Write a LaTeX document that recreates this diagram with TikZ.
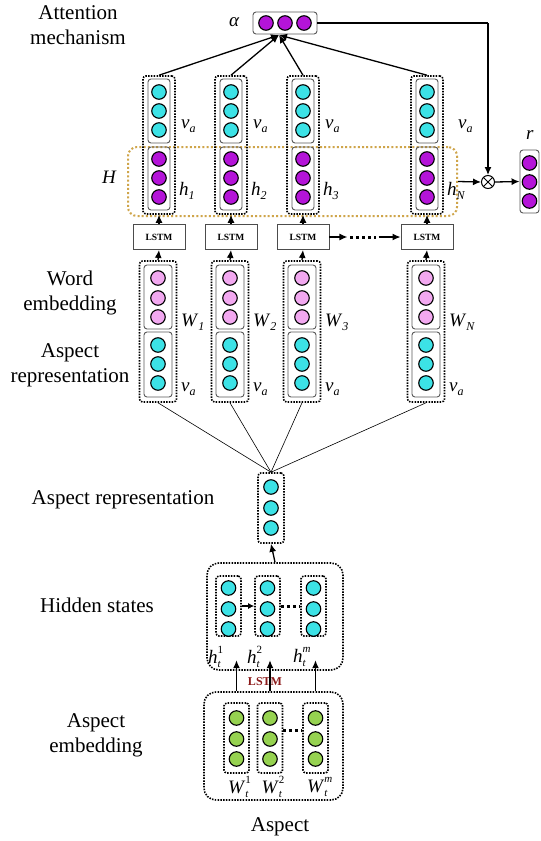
\documentclass[tikz,border=0pt]{standalone}
\usepackage{fontspec}
\setmainfont{Liberation Serif}
\usetikzlibrary{arrows.meta,calc}

\definecolor{cian}{HTML}{3CE2E6}
\definecolor{morado}{HTML}{B414D8}
\definecolor{rosa}{HTML}{F2A8F0}
\definecolor{verde}{HTML}{96D250}
\definecolor{dorado}{HTML}{CFA54A}
\definecolor{rojo}{HTML}{8B1A1A}

\newcommand{\etiq}[2]{\textit{#1}\raisebox{-0.45ex}{\fontsize{12}{12}\selectfont\textit{#2}}}
\newcommand{\etiqd}[3]{\textit{#1}\makebox[0pt][l]{\raisebox{1.1ex}{\fontsize{11}{11}\selectfont #3}}\raisebox{-0.5ex}{\fontsize{11}{11}\selectfont\textit{#2}}}

\begin{document}
\begin{tikzpicture}[x=1pt, y=-1pt,
  neurona/.style={circle, draw, line width=1.1pt, minimum size=14.5pt, inner sep=0pt},
  caja/.style={draw=black!65, line width=0.9pt, rounded corners=3pt, inner sep=0pt},
  punteado/.style={draw, line width=1.6pt, dash pattern=on 1.5pt off 1.3pt, rounded corners=3pt, inner sep=0pt},
  grupo/.style={punteado, rounded corners=12pt},
  lstmbox/.style={draw=black!70, line width=0.9pt, minimum width=52pt, minimum height=25pt, inner sep=0pt, font=\fontsize{9.5}{10}\selectfont\bfseries},
  texto/.style={align=center, font=\fontsize{21}{25}\selectfont},
  mat/.style={anchor=west, inner sep=0pt, font=\fontsize{19}{19}\selectfont},
  flecha/.style={line width=1.3pt, -{Latex[length=8pt,width=7pt]}},
  fina/.style={line width=0.6pt},
  puntos/.style={line width=3pt, dash pattern=on 3pt off 3pt}]

  \path[fill=white] (0,0) rectangle (541,841);
  \useasboundingbox (0,0) rectangle (541,841);

  % Textos
  \node[texto] (tatt) at (78,25) {Attention\\mechanism};
  \node[texto] (tword) at (70,292.5) {Word\\embedding};
  \node[texto] (trep) at (70,365.5) {Aspect\\representation};
  \node[texto] (trep2) at (123,500) {Aspect representation};
  \node[texto] (thid) at (97,605) {Hidden states};
  \node[texto] (temb) at (96,735.5) {Aspect\\embedding};
  \node[texto] (tasp) at (280,827) {Aspect};

  % Atencion
  \node[caja, minimum width=64pt, minimum height=22pt] (alfa) at (285,23) {};
  \foreach \x [count=\k] in {266,285,304}
    \node[neurona, fill=morado] (al\k) at (\x,23) {};
  \node[mat] (lalfa) at (229,22) {\textit{α}};
  \coordinate (punta) at (279,35);

  \node[draw=dorado, line width=2pt, dash pattern=on 2pt off 2.2pt, rounded corners=9pt,
        minimum width=329pt, minimum height=69pt] (H) at (292.5,181.5) {};
  \node[mat] (lH) at (102,177) {\textit{H}};

  % Columnas
  \foreach \i/\x/\s/\d in {1/159/1/22, 2/231/2/22, 3/303/3/22, 4/427/N/31} {
    \node[punteado, minimum width=32pt, minimum height=138pt] (col\i) at (\x,145) {};
    \node[caja, minimum width=22pt, minimum height=64pt] (va\i) at (\x,111) {};
    \node[caja, minimum width=22pt, minimum height=63pt] (h\i) at (\x,178.5) {};
    \foreach \y [count=\k] in {92,111,130}
      \node[neurona, fill=cian] (a\i\k) at (\x,\y) {};
    \foreach \y [count=\k] in {159,178,197}
      \node[neurona, fill=morado] (p\i\k) at (\x,\y) {};
    \node[mat] (lva\i) at (\x+\d,126) {\etiq{v}{a}};
    \node[mat] (lh\i) at (\x+20,191) {\etiq{h}{\s}};

    \node[lstmbox] (l\i) at (\x,237) {LSTM};

    \node[punteado, minimum width=37pt, minimum height=141pt] (pal\i) at (\x-1,331.5) {};
    \node[caja, minimum width=28pt, minimum height=64pt] (w\i) at (\x-1,297) {};
    \node[caja, minimum width=28pt, minimum height=65pt] (vb\i) at (\x-1,364.5) {};
    \foreach \y [count=\k] in {278,298,317}
      \node[neurona, fill=rosa] (r\i\k) at (\x-1,\y) {};
    \foreach \y [count=\k] in {345,364,383}
      \node[neurona, fill=cian] (b\i\k) at (\x-1,\y) {};
    \node[mat] (lw\i) at (\x+22,322) {\etiq{W}{\s}};
    \node[mat] (lvb\i) at (\x+22,389) {\etiq{v}{a}};

    \draw[flecha] (col\i.north) -- (punta);
    \draw[flecha] (l\i.north) -- (col\i.south);
    \draw[flecha] (pal\i.north) -- (l\i.south);
  }

  % LSTM siguientes
  \coordinate (s1) at ($(l3.east)+(18,0)$);
  \coordinate (s2) at ($(l3.east)+(21,0)$);
  \coordinate (s3) at ($(l4.west)+(-25,0)$);
  \coordinate (s4) at ($(l4.west)+(-22,0)$);
  \draw[flecha] (l3.east) -- (s1);
  \draw[puntos] (s2) -- (s3);
  \draw[flecha] (s4) -- (l4.west);

  % Salida
  \node[circle, draw, line width=1pt, minimum size=13pt, inner sep=0pt,
        path picture={\draw[line width=0.8pt] (path picture bounding box.north west) -- (path picture bounding box.south east)
                      (path picture bounding box.north east) -- (path picture bounding box.south west);}] (prod) at (488,182) {};
  \node[caja, minimum width=19pt, minimum height=63pt] (rbox) at (529.5,181.5) {};
  \foreach \y [count=\k] in {163,182,201}
    \node[neurona, fill=morado] (o\k) at (529.5,\y) {};
  \node[mat] (lr) at (526,135) {\textit{r}};
  \draw[line width=1.3pt] (alfa.east) -- (488,23) coordinate (esq);
  \draw[flecha] (esq) -- (prod.north);
  \draw[flecha] (H.east) -- (prod.west);
  \draw[flecha] (prod.east) -- (rbox.west);

  % Representacion del aspecto
  \node[punteado, minimum width=26pt, minimum height=70pt] (ar) at (271,508) {};
  \foreach \y [count=\k] in {487,508,528}
    \node[neurona, fill=cian] (ar\k) at (271,\y) {};
  \foreach \i in {1,...,4}
    \draw[fina] (pal\i.south) -- (ar.north);

  % Estados ocultos
  \node[grupo, minimum width=136pt, minimum height=107pt] (hid) at (275,616.5) {};
  \draw[flecha] (hid.north) -- (ar.south);
  \foreach \x/\s [count=\j] in {228.5/1, 267.5/2, 313.5/\textit{m}} {
    \node[punteado, minimum width=25pt, minimum height=60pt] (hb\j) at (\x,606) {};
    \foreach \y [count=\k] in {588,609,629}
      \node[neurona, fill=cian] (hc\j\k) at (\x,\y) {};
    \node[mat, anchor=center] (lht\j) at (\x-14,657) {\etiqd{h}{t}{\s}};
  }
  \draw[line width=1.2pt, -{Latex[length=6pt,width=6pt]}] (hb1.east) -- (hb2.west);
  \draw[puntos] (hb2.east) -- (hb3.west);
  \node[text=rojo, font=\fontsize{12}{12}\selectfont\bfseries] (lstmr) at (265,682) {LSTM};

  % Embedding del aspecto
  \node[grupo, minimum width=139pt, minimum height=108pt] (emb) at (273.5,746) {};
  \foreach \x/\s [count=\j] in {236.5/1, 270/2, 315.5/\textit{m}} {
    \node[punteado, minimum width=25pt, minimum height=70pt] (eb\j) at (\x,738) {};
    \foreach \y [count=\k] in {718,739,759}
      \node[neurona, fill=verde] (ec\j\k) at (\x,\y) {};
    \node[mat, anchor=center] (lwt\j) at (\x+2,787) {\etiqd{W}{t}{\s}};
    \draw[flecha] (eb\j.north |- emb.north) -- ++(0,-31);
  }
  \draw[puntos] ($(eb2.east)+(0,-8)$) -- ($(eb3.west)+(0,-8)$);
\end{tikzpicture}
\end{document}
